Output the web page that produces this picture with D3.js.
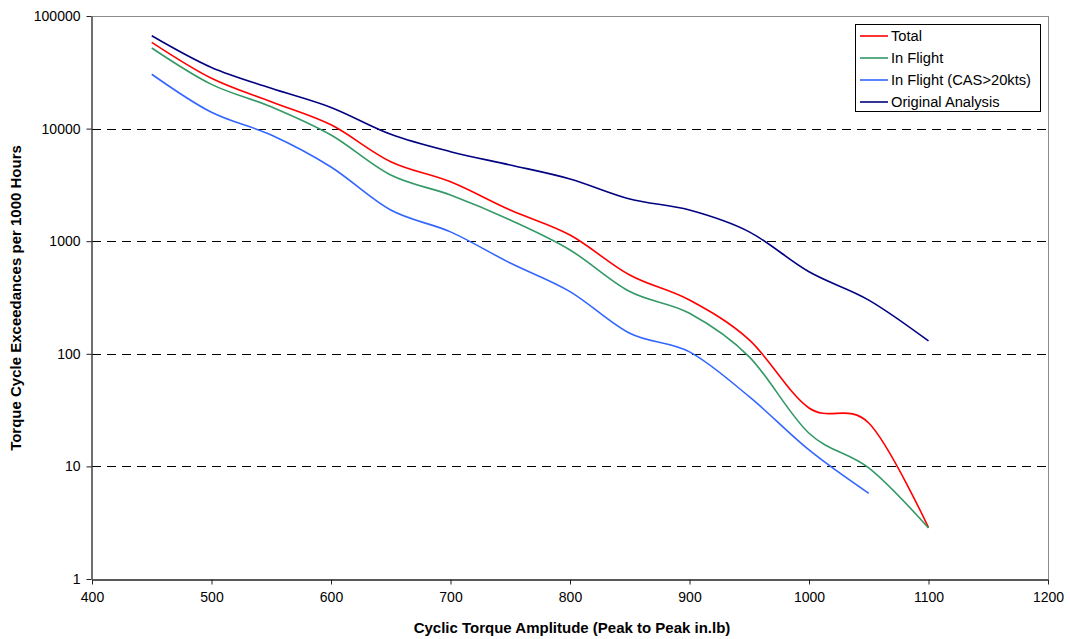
<!DOCTYPE html>
<html>
<head>
<meta charset="utf-8">
<script src="https://cdn.jsdelivr.net/npm/d3@7"></script>
<style>
  html, body { margin: 0; padding: 0; background: #fff; }
  svg { display: block; font-family: "Liberation Sans", Arial, sans-serif; }
</style>
</head>
<body>
<svg id="chart" width="1070" height="639"></svg>
<script>
// ---- Data ----
const amplitudes = [450, 500, 550, 600, 650, 700, 750, 800, 850, 900, 950, 1000, 1050, 1100];
const totalValues = [58400, 28000, 17300, 10800, 5080, 3370, 1890, 1135, 501, 300, 133, 33, 24.3, 2.86];
const inFlightValues = [52000, 24700, 15600, 8770, 3870, 2570, 1540, 836, 357, 229, 94, 19.7, 9.7, 2.84];
const inFlightCasValues = [30400, 13950, 8770, 4560, 1890, 1210, 640, 357, 152, 104, 41.6, 14, 5.77];
const originalValues = [66800, 34900, 22800, 15400, 8900, 6240, 4750, 3570, 2370, 1890, 1210, 535, 300, 130];
const seriesNames = ["Total", "In Flight", "In Flight (CAS>20kts)", "Original Analysis"];
const seriesColors = ["#ff0000", "#339966", "#3366ff", "#000080"];
const xTicks = [400, 500, 600, 700, 800, 900, 1000, 1100, 1200];
const yTicks = [1, 10, 100, 1000, 10000, 100000];
const xTitle = "Cyclic Torque Amplitude (Peak to Peak in.lb)";
const yTitle = "Torque Cycle Exceedances per 1000 Hours";

const seriesValues = [totalValues, inFlightValues, inFlightCasValues, originalValues];

// ---- Layout ----
const pL = 92, pR = 1048, pT = 16, pB = 579;
const svg = d3.select("#chart");

const x = d3.scaleLinear().domain([400, 1200]).range([pL, pR]);
const y = d3.scaleLog().domain([1, 100000]).range([pB, pT]);

// Plot frame (top & right in grey)
svg.append("line").attr("x1", pL).attr("x2", pR).attr("y1", pT + 0.5).attr("y2", pT + 0.5)
  .attr("stroke", "#8c8c8c").attr("stroke-width", 1);
svg.append("line").attr("x1", pR + 0.5).attr("x2", pR + 0.5).attr("y1", pT).attr("y2", pB)
  .attr("stroke", "#8c8c8c").attr("stroke-width", 1);

// Gridlines
svg.append("g").selectAll("line")
  .data(yTicks.filter(d => d > 1 && d < 100000))
  .join("line")
  .attr("x1", pL).attr("x2", pR)
  .attr("y1", d => Math.round(y(d)) + 0.5).attr("y2", d => Math.round(y(d)) + 0.5)
  .attr("stroke", "#000").attr("stroke-width", 1).attr("stroke-dasharray", "9,6");

// Axes
const xAxis = d3.axisBottom(x).tickValues(xTicks).tickFormat(d3.format("d")).tickSize(5).tickSizeOuter(0).tickPadding(8);
const yAxis = d3.axisLeft(y).tickValues(yTicks).tickFormat(d3.format("d")).tickSize(5).tickSizeOuter(0).tickPadding(6);

const gx = svg.append("g").attr("transform", `translate(0,${pB + 0.5})`).call(xAxis);
const gy = svg.append("g").attr("transform", `translate(${pL - 0.5},0)`).call(yAxis);
[gx, gy].forEach(g => {
  g.select(".domain").attr("stroke", "#222").attr("stroke-width", 1.3);
  g.selectAll(".tick line").attr("stroke", "#222");
  g.selectAll(".tick text").attr("fill", "#000").style("font-size", "14px")
    .style("font-family", "'Liberation Sans', Arial, sans-serif");
});

// Series lines
const line = d3.line()
  .x((d, i) => x(amplitudes[i]))
  .y(d => y(d))
  .curve(d3.curveCatmullRom.alpha(0));

svg.append("g").selectAll("path")
  .data(seriesValues)
  .join("path")
  .attr("d", d => line(d))
  .attr("fill", "none")
  .attr("stroke", (d, i) => seriesColors[i])
  .attr("stroke-width", 1.6);

// Axis titles
svg.append("text")
  .attr("x", 572).attr("y", 633)
  .attr("text-anchor", "middle")
  .style("font-size", "15px").style("font-weight", "bold")
  .text(xTitle);

svg.append("text")
  .attr("transform", `translate(21,298) rotate(-90)`)
  .attr("text-anchor", "middle")
  .style("font-size", "15px").style("font-weight", "bold")
  .text(yTitle);

// Legend
const lg = svg.append("g");
lg.append("rect").attr("x", 855.5).attr("y", 24.5).attr("width", 185).attr("height", 87)
  .attr("fill", "#fff").attr("stroke", "#000").attr("stroke-width", 1);
const items = lg.selectAll("g.item").data(seriesNames).join("g").attr("class", "item")
  .attr("transform", (d, i) => `translate(0,${36 + i * 22})`);
items.append("line").attr("x1", 860).attr("x2", 888).attr("y1", 0).attr("y2", 0)
  .attr("stroke", (d, i) => seriesColors[i]).attr("stroke-width", 1.6);
items.append("text").attr("x", 891).attr("y", 0).attr("dy", "0.36em")
  .style("font-size", "14.7px").text(d => d);
</script>
</body>
</html>
